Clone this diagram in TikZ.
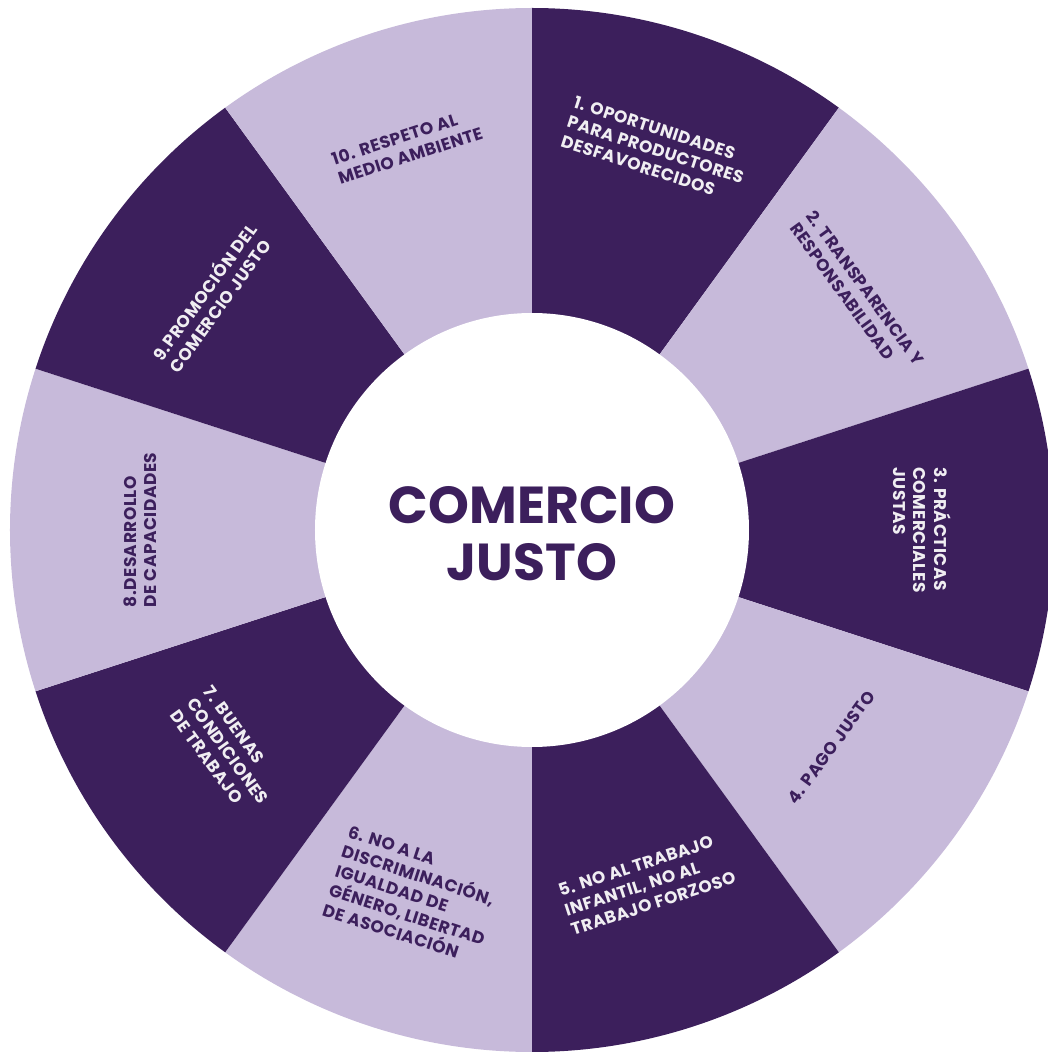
\documentclass[tikz,border=0pt]{standalone}
\usepackage{fontspec}
\setmainfont{Poppins}
\newfontfamily\lblfont{Poppins}[LetterSpace=3]
\definecolor{dk}{HTML}{3C1F5C}
\definecolor{lt}{HTML}{C7BADA}
\definecolor{wt}{HTML}{F0EEF2}
\begin{document}
\begin{tikzpicture}[x=1pt,y=1pt,
  seglabel/.style={align=left,font=\lblfont\fontsize{17}{20.5}\selectfont\bfseries,inner sep=0pt},
  onDark/.style={seglabel,text=wt},
  onLight/.style={seglabel,text=dk}]
\useasboundingbox (-532,-522) rectangle (516,530);
\begin{scope}
\clip (-532,-522) rectangle (516,530);
\foreach \i in {0,...,9}{
  \pgfmathsetmacro\a{90-36*\i}
  \pgfmathsetmacro\b{90-36*\i-36}
  \ifodd\i \def\c{lt}\else\def\c{dk}\fi
  \fill[\c] (0,0) -- (\a:522) arc[start angle=\a, end angle=\b, radius=522] -- cycle;
}
\end{scope}
\node[circle,fill=white,minimum size=434pt,inner sep=0pt] (hub) at (0,0) {};
\node[text=dk,align=center,font=\fontsize{52}{57}\selectfont\bfseries] (title) at (0,-4) {COMERCIO\\JUSTO};
\node[onDark,rotate=-18] (s1) at (72:400) {1. OPORTUNIDADES\\PARA PRODUCTORES\\DESFAVORECIDOS};
\node[onLight,rotate=-54] (s2) at (36:402) {2. TRANSPARENCIA Y\\RESPONSABILIDAD};
\node[onDark,rotate=-90] (s3) at (0:390) {3. PRÁCTICAS\\COMERCIALES\\JUSTAS};
\node[onLight,rotate=54] (s4) at (-36:370) {4. PAGO JUSTO};
\node[onDark,rotate=18] (s5) at (-72:372) {5. NO AL TRABAJO\\INFANTIL, NO AL\\TRABAJO FORZOSO};
\node[onLight,rotate=-18] (s6) at (-108:384) {6. NO A LA\\DISCRIMINACIÓN,\\IGUALDAD DE\\GÉNERO,\,LIBERTAD\\DE ASOCIACIÓN};
\node[onDark,rotate=-54] (s7) at (-144:376) {7. BUENAS\\CONDICIONES\\DE TRABAJO};
\node[onLight,rotate=90] (s8) at (180:392) {8.DESARROLLO\\DE CAPACIDADES};
\node[onDark,rotate=54] (s9) at (144:396) {9.PROMOCIÓN DEL\\COMERCIO JUSTO};
\node[onLight,rotate=18] (s10) at (108:404) {10. RESPETO AL\\MEDIO AMBIENTE};
\end{tikzpicture}
\end{document}
